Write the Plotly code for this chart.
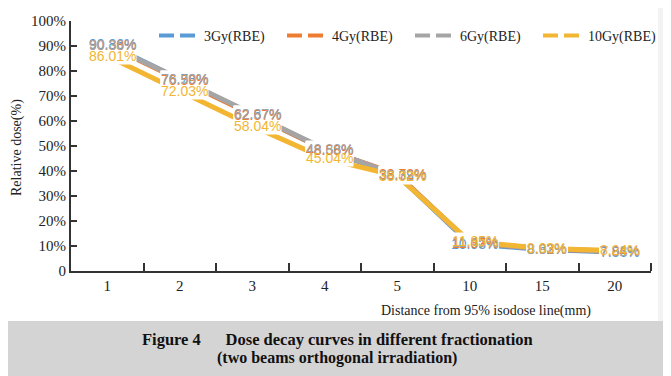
import plotly.graph_objects as go

W, H = 671, 376
OFF = 8  # page body margin offset compensation

categories = ["1", "2", "3", "4", "5", "10", "15", "20"]
series_names = ["3Gy(RBE)", "4Gy(RBE)", "6Gy(RBE)", "10Gy(RBE)"]
dose_3gy = [90.86, 76.78, 62.67, 48.56, 38.39, 10.93, 8.62, 7.56]
dose_4gy = [90.38, 76.59, 62.57, 48.58, 38.72, 11.37, 8.93, 7.84]
dose_6gy = [90.36, 76.90, 62.87, 48.83, 38.32, 11.45, 8.97, 7.92]
dose_10gy = [86.01, 72.03, 58.04, 45.04, 38.02, 11.85, 9.03, 8.24]
y_tick_vals = [0, 10, 20, 30, 40, 50, 60, 70, 80, 90, 100]
y_tick_text = ["0", "10%", "20%", "30%", "40%", "50%", "60%", "70%", "80%", "90%", "100%"]

colors = ["#5B9BD5", "#ED7D31", "#A5A5A5", "#F2B632"]
all_series = [dose_3gy, dose_4gy, dose_6gy, dose_10gy]

SERIF = "Liberation Serif, Times New Roman, serif"
LABEL_FONT = "Liberation Sans, Arial, sans-serif"

def fx(x):
    return (x - OFF) / W

def fy(y):
    return 1 - (y - OFF) / H

idx = list(range(len(categories)))

fig = go.Figure()
for name, vals, col in zip(series_names, all_series, colors):
    fig.add_trace(go.Scatter(x=idx, y=vals, mode="lines", line=dict(color=col, width=5),
                             showlegend=False, hoverinfo="skip"))
for name, col in zip(series_names, colors):
    fig.add_trace(go.Scatter(x=[None], y=[None], mode="lines", name=name,
                             line=dict(color=col, width=4, dash="15px,6px")))

annotations = []
# white boxes behind labels (hide the lines under the labels)
for vals in all_series:
    for i, v in zip(idx, vals):
        annotations.append(dict(x=i, y=v, xref="x", yref="y", text=f"{v:.2f}%", showarrow=False,
                                xanchor="center", yanchor="middle", xshift=5,
                                font=dict(family=LABEL_FONT, size=14, color="rgba(0,0,0,0)"),
                                bgcolor="white", borderpad=0))
# coloured labels
for vals, col in zip(all_series, colors):
    for i, v in zip(idx, vals):
        annotations.append(dict(x=i, y=v, xref="x", yref="y", text=f"{v:.2f}%", showarrow=False,
                                xanchor="center", yanchor="middle", xshift=5,
                                font=dict(family=LABEL_FONT, size=14, color=col), borderpad=0))

annotations += [
    dict(x=fx(17), y=fy(148), xref="paper", yref="paper", text="Relative dose(%)", textangle=-90,
         xanchor="center", yanchor="middle",
         showarrow=False, font=dict(family=SERIF, size=14, color="#222")),
    dict(x=fx(486), y=fy(311), xref="paper", yref="paper", text="Distance from 95% isodose line(mm)",
         xanchor="center", yanchor="middle",
         showarrow=False, font=dict(family=SERIF, size=14, color="#222")),
    dict(x=fx(337), y=fy(339), xref="paper", yref="paper",
         text="<b>Figure 4\u2003\u2002Dose decay curves in different fractionation</b>",
         xanchor="center", yanchor="middle",
         showarrow=False, font=dict(family=SERIF, size=16.5, color="#111")),
    dict(x=fx(337), y=fy(358), xref="paper", yref="paper",
         text="<b>(two beams orthogonal irradiation)</b>",
         xanchor="center", yanchor="middle",
         showarrow=False, font=dict(family=SERIF, size=16, color="#111")),
]

shapes = [
    dict(type="rect", xref="paper", yref="paper", x0=0, x1=1, y0=0, y1=fy(321),
         fillcolor="#D4D4D4", line=dict(width=0), layer="below"),
    dict(type="rect", xref="paper", yref="paper", x0=fx(658), x1=1, y0=fy(321), y1=1,
         fillcolor="#F3F3F3", line=dict(width=0), layer="below"),
]

fig.update_layout(
    template="none",
    width=W, height=H,
    margin=dict(l=0, r=0, t=0, b=0, pad=0),
    paper_bgcolor="white", plot_bgcolor="rgba(0,0,0,0)",
    showlegend=True,
    legend=dict(orientation="h", x=fx(154), y=fy(36), xanchor="left", yanchor="middle",
                font=dict(family=SERIF, size=14, color="#222"), bgcolor="rgba(0,0,0,0)",
                entrywidth=73, itemwidth=40, tracegroupgap=0),
    xaxis=dict(domain=[fx(71), fx(651)], range=[-0.5, 7.5], tickvals=idx, ticktext=categories,
               ticks="", showgrid=False, zeroline=False, showline=True, linecolor="#333", linewidth=2,
               tickfont=dict(family=SERIF, size=15, color="#222"), automargin=False,
               minor=dict(tickvals=[k + 0.5 for k in idx], ticks="inside", ticklen=8,
                          tickcolor="#333", tickwidth=1.5, showgrid=False),
               fixedrange=True),
    yaxis=dict(domain=[fy(271), fy(21)], range=[0, 100], tickvals=y_tick_vals, ticktext=y_tick_text,
               ticks="inside", ticklen=6, tickcolor="#333", tickwidth=1.5, automargin=False,
               showgrid=False, zeroline=False, showline=True, linecolor="#333", linewidth=2,
               tickfont=dict(family=SERIF, size=15, color="#222"), fixedrange=True),
    annotations=annotations,
    shapes=shapes,
)

fig.write_html("out.html")
